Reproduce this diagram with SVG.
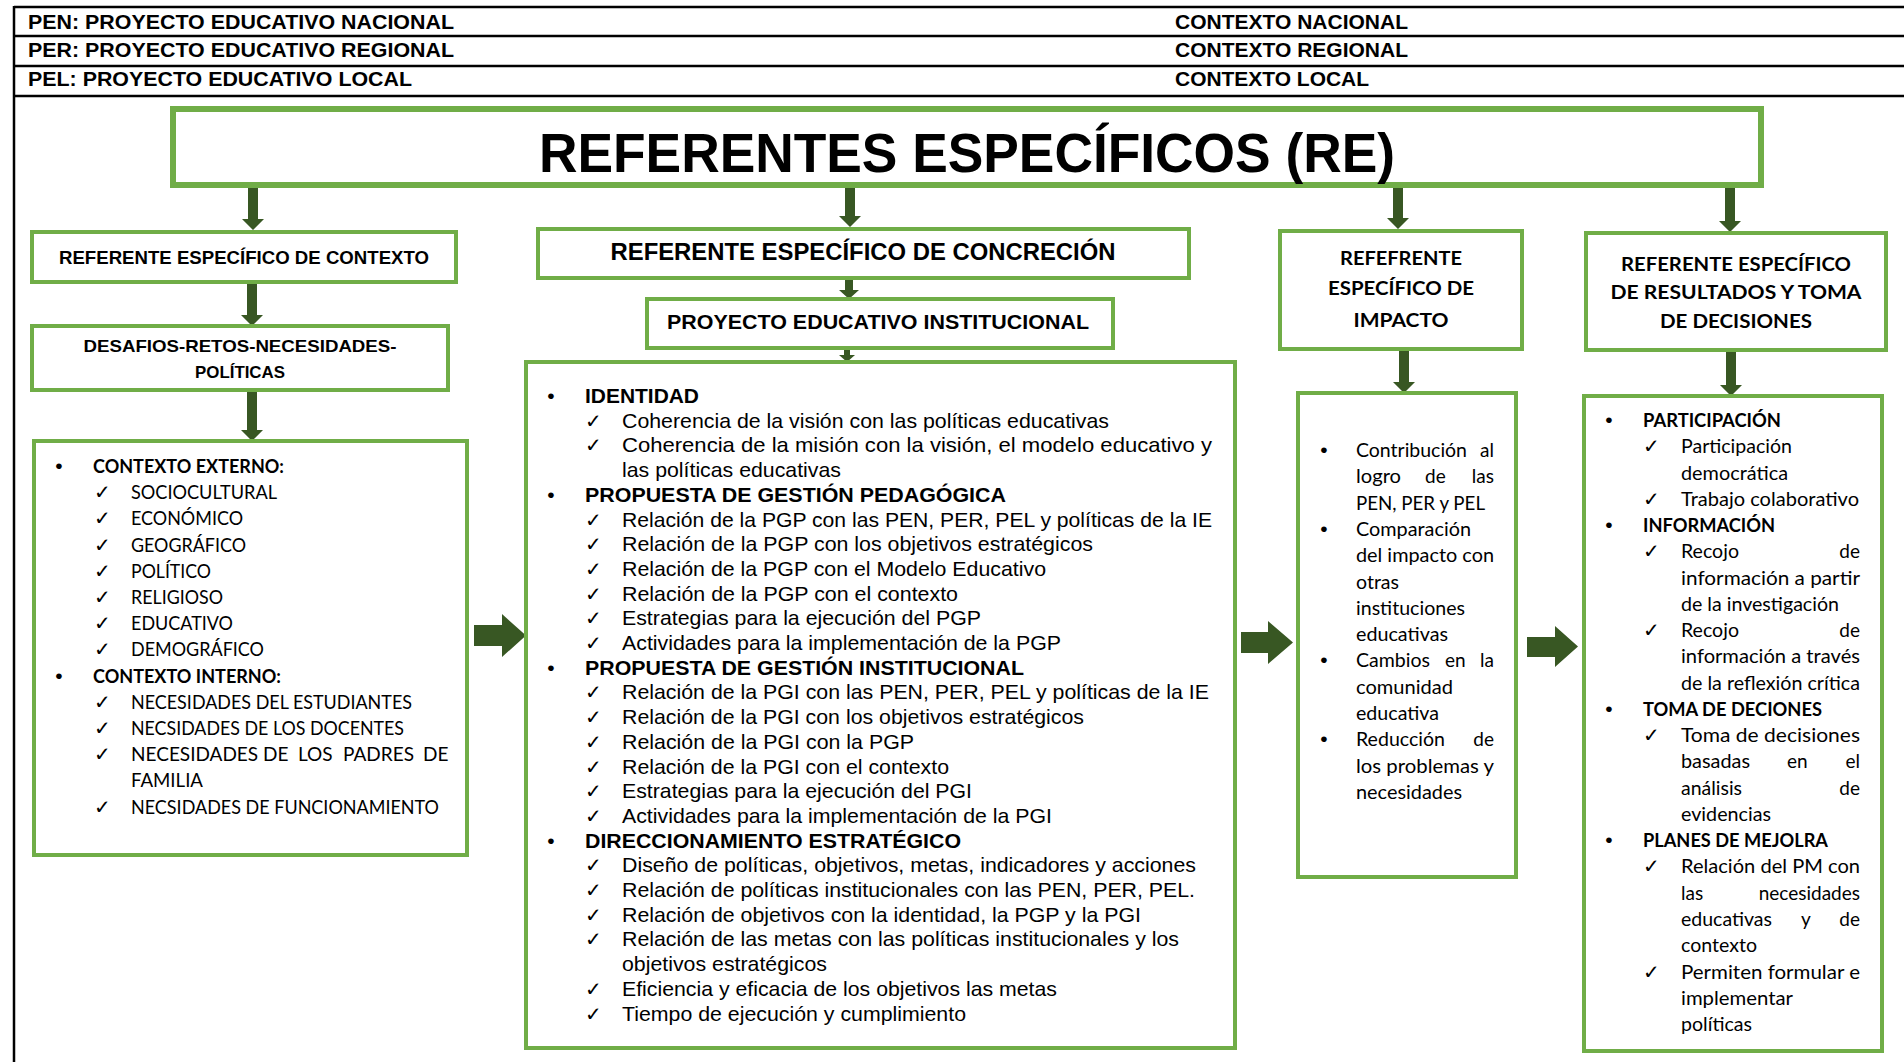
<svg xmlns="http://www.w3.org/2000/svg" width="1904" height="1062" viewBox="0 0 1904 1062">
<style>
.hl{stroke:#000;stroke-width:2.5;fill:none}
.box{fill:#fff;stroke:#70AD47;stroke-width:4}
.tbox{fill:#fff;stroke:#70AD47;stroke-width:6}
.arr{fill:#385723}
.hdr{font-family:"Liberation Sans",Arial,sans-serif;font-weight:bold;font-size:21px;fill:#000}
.ttl{font-family:"Liberation Sans",Arial,sans-serif;font-weight:bold;font-size:56px;fill:#000}
.hb{font-family:"Liberation Sans",Arial,sans-serif;font-weight:bold;fill:#000}
.ar{font-family:"Liberation Sans",Arial,sans-serif;font-size:21px;fill:#000}
.arb{font-family:"Liberation Sans",Arial,sans-serif;font-size:21px;font-weight:bold;fill:#000}
.cal{font-family:Lato,"Open Sans",sans-serif;font-size:19px;fill:#000}
.calb{font-family:Lato,"Open Sans",sans-serif;font-size:19px;font-weight:bold;fill:#000}
.chk{font-family:"DejaVu Sans",sans-serif;font-size:20px;fill:#000}
.bul{font-family:"Liberation Sans",Arial,sans-serif;font-size:21px;fill:#000;text-anchor:middle}
.mid{text-anchor:middle}
.end{text-anchor:end}
</style>
<rect x="0" y="0" width="1904" height="1062" fill="#fff"/>

<g id="header">
<line class="hl" x1="14" y1="7" x2="1904" y2="7"/>
<line class="hl" x1="14" y1="36" x2="1904" y2="36"/>
<line class="hl" x1="14" y1="66" x2="1904" y2="66"/>
<line class="hl" x1="14" y1="96" x2="1904" y2="96"/>
<line class="hl" x1="14" y1="6" x2="14" y2="1062"/>
<text class="hdr" x="28" y="28.5" textLength="426" lengthAdjust="spacingAndGlyphs">PEN: PROYECTO EDUCATIVO NACIONAL</text>
<text class="hdr" x="28" y="57" textLength="426" lengthAdjust="spacingAndGlyphs">PER: PROYECTO EDUCATIVO REGIONAL</text>
<text class="hdr" x="28" y="86" textLength="384" lengthAdjust="spacingAndGlyphs">PEL: PROYECTO EDUCATIVO LOCAL</text>
<text class="hdr" x="1175" y="28.5" textLength="233" lengthAdjust="spacingAndGlyphs">CONTEXTO NACIONAL</text>
<text class="hdr" x="1175" y="57" textLength="233" lengthAdjust="spacingAndGlyphs">CONTEXTO REGIONAL</text>
<text class="hdr" x="1175" y="86" textLength="194" lengthAdjust="spacingAndGlyphs">CONTEXTO LOCAL</text>
</g>

<g id="connectors">
<polygon class="arr" points="248,188 258,188 258,219 264,219 253,230 242,219 248,219"/>
<polygon class="arr" points="845,188 855,188 855,216 861,216 850,227 839,216 845,216"/>
<polygon class="arr" points="1393,188 1403,188 1403,218 1409,218 1398,229 1387,218 1393,218"/>
<polygon class="arr" points="1725,188 1735,188 1735,221 1741,221 1730,232 1719,221 1725,221"/>
<polygon class="arr" points="247,284 257,284 257,315 263,315 252,326 241,315 247,315"/>
<polygon class="arr" points="247,392 257,392 257,430 263,430 252,441 241,430 247,430"/>
<polygon class="arr" points="845,280 853,280 853,290 859,290 849,299 839,290 845,290"/>
<polygon class="arr" points="844,350 850,350 850,355 855,355 847,362 839,355 844,355"/>
<polygon class="arr" points="1399,351 1409,351 1409,382 1415,382 1404,393 1393,382 1399,382"/>
<polygon class="arr" points="1726,352 1736,352 1736,385 1742,385 1731,396 1720,385 1726,385"/>
<polygon class="arr" points="474,625 502,625 502,614 526,635.5 502,657 502,646 474,646"/>
<polygon class="arr" points="1241,632 1268,632 1268,621 1293,642.5 1268,664 1268,653 1241,653"/>
<polygon class="arr" points="1527,637 1555,637 1555,626 1578,646.5 1555,667 1555,657 1527,657"/>
</g>

<g id="title">
<rect class="tbox" x="173" y="109" width="1588" height="76"/>
<text class="ttl mid" x="967" y="172" textLength="856" lengthAdjust="spacingAndGlyphs">REFERENTES ESPECÍFICOS (RE)</text>
</g>

<g id="re-contexto">
<rect class="box" x="32" y="232" width="424" height="50"/>
<text class="hb mid" font-size="18" x="244" y="264" textLength="370" lengthAdjust="spacingAndGlyphs">REFERENTE ESPECÍFICO DE CONTEXTO</text>
</g>

<g id="desafios">
<rect class="box" x="32" y="326" width="416" height="64"/>
<text class="hb mid" font-size="17" x="240" y="352" textLength="313" lengthAdjust="spacingAndGlyphs">DESAFIOS-RETOS-NECESIDADES-</text>
<text class="hb mid" font-size="17" x="240" y="378" textLength="90" lengthAdjust="spacingAndGlyphs">POLÍTICAS</text>
</g>

<g id="contexto-lista">
<rect class="box" x="34" y="441" width="433" height="414"/>
<text class="bul" x="59" y="473">•</text>
<text class="calb" x="93" y="473" textLength="191" lengthAdjust="spacingAndGlyphs">CONTEXTO EXTERNO:</text>
<text class="chk" x="94" y="499.2">✓</text><text class="cal" x="131" y="499.2" textLength="146" lengthAdjust="spacingAndGlyphs">SOCIOCULTURAL</text>
<text class="chk" x="94" y="525.4">✓</text><text class="cal" x="131" y="525.4" textLength="112" lengthAdjust="spacingAndGlyphs">ECONÓMICO</text>
<text class="chk" x="94" y="551.6">✓</text><text class="cal" x="131" y="551.6" textLength="115" lengthAdjust="spacingAndGlyphs">GEOGRÁFICO</text>
<text class="chk" x="94" y="577.8">✓</text><text class="cal" x="131" y="577.8" textLength="80" lengthAdjust="spacingAndGlyphs">POLÍTICO</text>
<text class="chk" x="94" y="604">✓</text><text class="cal" x="131" y="604" textLength="92" lengthAdjust="spacingAndGlyphs">RELIGIOSO</text>
<text class="chk" x="94" y="630.2">✓</text><text class="cal" x="131" y="630.2" textLength="102" lengthAdjust="spacingAndGlyphs">EDUCATIVO</text>
<text class="chk" x="94" y="656.4">✓</text><text class="cal" x="131" y="656.4" textLength="133" lengthAdjust="spacingAndGlyphs">DEMOGRÁFICO</text>
<text class="bul" x="59" y="682.6">•</text>
<text class="calb" x="93" y="682.6" textLength="188" lengthAdjust="spacingAndGlyphs">CONTEXTO INTERNO:</text>
<text class="chk" x="94" y="708.8">✓</text><text class="cal" x="131" y="708.8" textLength="281" lengthAdjust="spacingAndGlyphs">NECESIDADES DEL ESTUDIANTES</text>
<text class="chk" x="94" y="735">✓</text><text class="cal" x="131" y="735" textLength="273" lengthAdjust="spacingAndGlyphs">NECSIDADES DE LOS DOCENTES</text>
<text class="chk" x="94" y="761.2">✓</text><text class="cal" y="761.2"><tspan x="131">NECESIDADES</tspan><tspan x="263">DE</tspan><tspan x="298">LOS</tspan><tspan x="343">PADRES</tspan><tspan x="423">DE</tspan></text>
<text class="cal" x="131" y="787.4" textLength="72" lengthAdjust="spacingAndGlyphs">FAMILIA</text>
<text class="chk" x="94" y="813.6">✓</text><text class="cal" x="131" y="813.6" textLength="308" lengthAdjust="spacingAndGlyphs">NECSIDADES DE FUNCIONAMIENTO</text>
</g>

<g id="re-concrecion">
<rect class="box" x="538" y="229" width="651" height="49"/>
<text class="hb mid" font-size="23" x="863" y="260" textLength="505" lengthAdjust="spacingAndGlyphs">REFERENTE ESPECÍFICO DE CONCRECIÓN</text>
</g>

<g id="pei">
<rect class="box" x="647" y="299" width="466" height="49"/>
<text class="hb mid" font-size="21" x="878" y="329" textLength="422" lengthAdjust="spacingAndGlyphs">PROYECTO EDUCATIVO INSTITUCIONAL</text>
</g>

<g id="pei-lista">
<rect class="box" x="526" y="362" width="709" height="686"/>
<text class="bul" x="551" y="403">•</text>
<text class="arb" x="585" y="403" textLength="114" lengthAdjust="spacingAndGlyphs">IDENTIDAD</text>
<text class="chk" x="585" y="427.7">✓</text><text class="ar" x="622" y="427.7" textLength="487" lengthAdjust="spacingAndGlyphs">Coherencia de la visión con las políticas educativas</text>
<text class="chk" x="585" y="452.4">✓</text><text class="ar" x="622" y="452.4" textLength="590" lengthAdjust="spacingAndGlyphs">Coherencia de la misión con la visión, el modelo educativo y</text>
<text class="ar" x="622" y="477.1" textLength="219" lengthAdjust="spacingAndGlyphs">las políticas educativas</text>
<text class="bul" x="551" y="501.8">•</text>
<text class="arb" x="585" y="501.8" textLength="421" lengthAdjust="spacingAndGlyphs">PROPUESTA DE GESTIÓN PEDAGÓGICA</text>
<text class="chk" x="585" y="526.5">✓</text><text class="ar" x="622" y="526.5" textLength="590" lengthAdjust="spacingAndGlyphs">Relación de la PGP con las PEN, PER, PEL y políticas de la IE</text>
<text class="chk" x="585" y="551.2">✓</text><text class="ar" x="622" y="551.2" textLength="471" lengthAdjust="spacingAndGlyphs">Relación de la PGP con los objetivos estratégicos</text>
<text class="chk" x="585" y="575.9">✓</text><text class="ar" x="622" y="575.9" textLength="424" lengthAdjust="spacingAndGlyphs">Relación de la PGP con el Modelo Educativo</text>
<text class="chk" x="585" y="600.6">✓</text><text class="ar" x="622" y="600.6" textLength="336" lengthAdjust="spacingAndGlyphs">Relación de la PGP con el contexto</text>
<text class="chk" x="585" y="625.3">✓</text><text class="ar" x="622" y="625.3" textLength="359" lengthAdjust="spacingAndGlyphs">Estrategias para la ejecución del PGP</text>
<text class="chk" x="585" y="650">✓</text><text class="ar" x="622" y="650" textLength="439" lengthAdjust="spacingAndGlyphs">Actividades para la implementación de la PGP</text>
<text class="bul" x="551" y="674.7">•</text>
<text class="arb" x="585" y="674.7" textLength="439" lengthAdjust="spacingAndGlyphs">PROPUESTA DE GESTIÓN INSTITUCIONAL</text>
<text class="chk" x="585" y="699.4">✓</text><text class="ar" x="622" y="699.4" textLength="587" lengthAdjust="spacingAndGlyphs">Relación de la PGI con las PEN, PER, PEL y políticas de la IE</text>
<text class="chk" x="585" y="724.1">✓</text><text class="ar" x="622" y="724.1" textLength="462" lengthAdjust="spacingAndGlyphs">Relación de la PGI con los objetivos estratégicos</text>
<text class="chk" x="585" y="748.8">✓</text><text class="ar" x="622" y="748.8" textLength="292" lengthAdjust="spacingAndGlyphs">Relación de la PGI con la PGP</text>
<text class="chk" x="585" y="773.5">✓</text><text class="ar" x="622" y="773.5" textLength="327" lengthAdjust="spacingAndGlyphs">Relación de la PGI con el contexto</text>
<text class="chk" x="585" y="798.2">✓</text><text class="ar" x="622" y="798.2" textLength="350" lengthAdjust="spacingAndGlyphs">Estrategias para la ejecución del PGI</text>
<text class="chk" x="585" y="822.9">✓</text><text class="ar" x="622" y="822.9" textLength="430" lengthAdjust="spacingAndGlyphs">Actividades para la implementación de la PGI</text>
<text class="bul" x="551" y="847.6">•</text>
<text class="arb" x="585" y="847.6" textLength="376" lengthAdjust="spacingAndGlyphs">DIRECCIONAMIENTO ESTRATÉGICO</text>
<text class="chk" x="585" y="872.3">✓</text><text class="ar" x="622" y="872.3" textLength="574" lengthAdjust="spacingAndGlyphs">Diseño de políticas, objetivos, metas, indicadores y acciones</text>
<text class="chk" x="585" y="897">✓</text><text class="ar" x="622" y="897" textLength="573" lengthAdjust="spacingAndGlyphs">Relación de políticas institucionales con las PEN, PER, PEL.</text>
<text class="chk" x="585" y="921.7">✓</text><text class="ar" x="622" y="921.7" textLength="519" lengthAdjust="spacingAndGlyphs">Relación de objetivos con la identidad, la PGP y la PGI</text>
<text class="chk" x="585" y="946.4">✓</text><text class="ar" x="622" y="946.4" textLength="557" lengthAdjust="spacingAndGlyphs">Relación de las metas con las políticas institucionales y los</text>
<text class="ar" x="622" y="971.1" textLength="205" lengthAdjust="spacingAndGlyphs">objetivos estratégicos</text>
<text class="chk" x="585" y="995.8">✓</text><text class="ar" x="622" y="995.8" textLength="435" lengthAdjust="spacingAndGlyphs">Eficiencia y eficacia de los objetivos las metas</text>
<text class="chk" x="585" y="1020.5">✓</text><text class="ar" x="622" y="1020.5" textLength="344" lengthAdjust="spacingAndGlyphs">Tiempo de ejecución y cumplimiento</text>
</g>

<g id="re-impacto">
<rect class="box" x="1280" y="231" width="242" height="118"/>
<text class="calb mid" x="1401" y="265" textLength="122" lengthAdjust="spacingAndGlyphs">REFEFRENTE</text>
<text class="calb mid" x="1401" y="295" textLength="146" lengthAdjust="spacingAndGlyphs">ESPECÍFICO DE</text>
<text class="calb mid" x="1401" y="327" textLength="95" lengthAdjust="spacingAndGlyphs">IMPACTO</text>
</g>

<g id="impacto-lista">
<rect class="box" x="1298" y="393" width="218" height="484"/>
<text class="bul" x="1324" y="457">•</text>
<text class="cal" x="1356" y="457" textLength="111" lengthAdjust="spacingAndGlyphs">Contribución</text><text class="cal end" x="1494" y="457">al</text>
<text class="cal" x="1356" y="483.3" textLength="45" lengthAdjust="spacingAndGlyphs">logro</text><text class="cal" x="1425" y="483.3">de</text><text class="cal end" x="1494" y="483.3">las</text>
<text class="cal" x="1356" y="509.6" textLength="129" lengthAdjust="spacingAndGlyphs">PEN, PER y PEL</text>
<text class="bul" x="1324" y="535.9">•</text>
<text class="cal" x="1356" y="535.9" textLength="115" lengthAdjust="spacingAndGlyphs">Comparación</text>
<text class="cal" x="1356" y="562.2" textLength="138" lengthAdjust="spacingAndGlyphs">del impacto con</text>
<text class="cal" x="1356" y="588.5" textLength="43" lengthAdjust="spacingAndGlyphs">otras</text>
<text class="cal" x="1356" y="614.8" textLength="109" lengthAdjust="spacingAndGlyphs">instituciones</text>
<text class="cal" x="1356" y="641.1" textLength="92" lengthAdjust="spacingAndGlyphs">educativas</text>
<text class="bul" x="1324" y="667.4">•</text>
<text class="cal" x="1356" y="667.4" textLength="74" lengthAdjust="spacingAndGlyphs">Cambios</text><text class="cal" x="1445" y="667.4">en</text><text class="cal end" x="1494" y="667.4">la</text>
<text class="cal" x="1356" y="693.7" textLength="97" lengthAdjust="spacingAndGlyphs">comunidad</text>
<text class="cal" x="1356" y="720" textLength="83" lengthAdjust="spacingAndGlyphs">educativa</text>
<text class="bul" x="1324" y="746.3">•</text>
<text class="cal" x="1356" y="746.3" textLength="89" lengthAdjust="spacingAndGlyphs">Reducción</text><text class="cal end" x="1494" y="746.3">de</text>
<text class="cal" x="1356" y="772.6" textLength="138" lengthAdjust="spacingAndGlyphs">los problemas y</text>
<text class="cal" x="1356" y="798.9" textLength="106" lengthAdjust="spacingAndGlyphs">necesidades</text>
</g>

<g id="re-resultados">
<rect class="box" x="1586" y="233" width="300" height="117"/>
<text class="calb mid" x="1736" y="271" textLength="230" lengthAdjust="spacingAndGlyphs">REFERENTE ESPECÍFICO</text>
<text class="calb mid" x="1736" y="299" textLength="251" lengthAdjust="spacingAndGlyphs">DE RESULTADOS Y TOMA</text>
<text class="calb mid" x="1736" y="328" textLength="152" lengthAdjust="spacingAndGlyphs">DE DECISIONES</text>
</g>

<g id="resultados-lista">
<rect class="box" x="1584" y="396" width="298" height="655"/>
<text class="bul" x="1609" y="427">•</text>
<text class="calb" x="1643" y="427" textLength="138" lengthAdjust="spacingAndGlyphs">PARTICIPACIÓN</text>
<text class="chk" x="1643" y="453.3">✓</text><text class="cal" x="1681" y="453.3" textLength="111" lengthAdjust="spacingAndGlyphs">Participación</text>
<text class="cal" x="1681" y="479.5" textLength="107" lengthAdjust="spacingAndGlyphs">democrática</text>
<text class="chk" x="1643" y="505.8">✓</text><text class="cal" x="1681" y="505.8" textLength="178" lengthAdjust="spacingAndGlyphs">Trabajo colaborativo</text>
<text class="bul" x="1609" y="532">•</text>
<text class="calb" x="1643" y="532" textLength="132" lengthAdjust="spacingAndGlyphs">INFORMACIÓN</text>
<text class="chk" x="1643" y="558.3">✓</text><text class="cal" x="1681" y="558.3" textLength="58" lengthAdjust="spacingAndGlyphs">Recojo</text><text class="cal end" x="1860" y="558.3">de</text>
<text class="cal" x="1681" y="584.6" textLength="179" lengthAdjust="spacingAndGlyphs">información a partir</text>
<text class="cal" x="1681" y="610.8" textLength="158" lengthAdjust="spacingAndGlyphs">de la investigación</text>
<text class="chk" x="1643" y="637.1">✓</text><text class="cal" x="1681" y="637.1" textLength="58" lengthAdjust="spacingAndGlyphs">Recojo</text><text class="cal end" x="1860" y="637.1">de</text>
<text class="cal" x="1681" y="663.3" textLength="179" lengthAdjust="spacingAndGlyphs">información a través</text>
<text class="cal" x="1681" y="689.6" textLength="179" lengthAdjust="spacingAndGlyphs">de la reflexión crítica</text>
<text class="bul" x="1609" y="715.9">•</text>
<text class="calb" x="1643" y="715.9" textLength="179" lengthAdjust="spacingAndGlyphs">TOMA DE DECIONES</text>
<text class="chk" x="1643" y="742.1">✓</text><text class="cal" x="1681" y="742.1" textLength="179" lengthAdjust="spacingAndGlyphs">Toma de decisiones</text>
<text class="cal" x="1681" y="768.4" textLength="69" lengthAdjust="spacingAndGlyphs">basadas</text><text class="cal" x="1787" y="768.4">en</text><text class="cal end" x="1860" y="768.4">el</text>
<text class="cal" x="1681" y="794.6" textLength="61" lengthAdjust="spacingAndGlyphs">análisis</text><text class="cal end" x="1860" y="794.6">de</text>
<text class="cal" x="1681" y="820.9" textLength="90" lengthAdjust="spacingAndGlyphs">evidencias</text>
<text class="bul" x="1609" y="847.2">•</text>
<text class="calb" x="1643" y="847.2" textLength="185" lengthAdjust="spacingAndGlyphs">PLANES DE MEJOLRA</text>
<text class="chk" x="1643" y="873.4">✓</text><text class="cal" x="1681" y="873.4" textLength="179" lengthAdjust="spacingAndGlyphs">Relación del PM con</text>
<text class="cal" x="1681" y="899.7">las</text><text class="cal end" x="1860" y="899.7">necesidades</text>
<text class="cal" x="1681" y="925.9" textLength="91" lengthAdjust="spacingAndGlyphs">educativas</text><text class="cal" x="1801" y="925.9">y</text><text class="cal end" x="1860" y="925.9">de</text>
<text class="cal" x="1681" y="952.2" textLength="76" lengthAdjust="spacingAndGlyphs">contexto</text>
<text class="chk" x="1643" y="978.5">✓</text><text class="cal" x="1681" y="978.5" textLength="179" lengthAdjust="spacingAndGlyphs">Permiten formular e</text>
<text class="cal" x="1681" y="1004.7" textLength="112" lengthAdjust="spacingAndGlyphs">implementar</text>
<text class="cal" x="1681" y="1031" textLength="71" lengthAdjust="spacingAndGlyphs">políticas</text>
</g>
</svg>
